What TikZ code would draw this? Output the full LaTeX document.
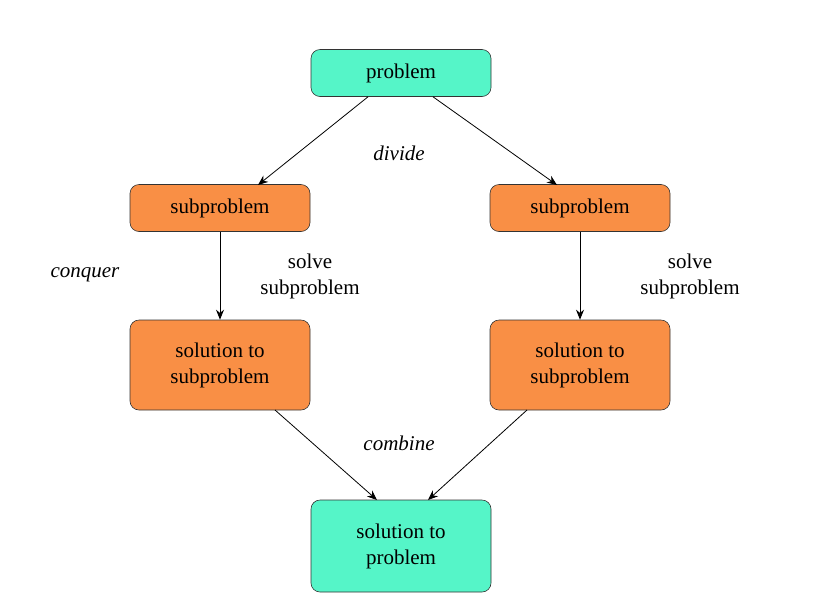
\documentclass[tikz,border=0pt]{standalone}
\usepackage{fontspec}
\setmainfont{Liberation Serif}
\usetikzlibrary{arrows.meta}
\definecolor{cy}{HTML}{55F5C8}
\definecolor{og}{HTML}{F98F45}
\begin{document}
\begin{tikzpicture}[x=1pt,y=-1pt,
 box/.style={draw=black!80,rounded corners=9pt,line width=0.6pt,minimum width=180pt,align=center,font=\fontsize{21}{26}\selectfont},
 lab/.style={font=\fontsize{21}{26}\selectfont,align=center},
 arr/.style={-{Stealth[length=10pt,width=8pt]},line width=0.8pt}]
\useasboundingbox (0,0) rectangle (824,606);
\node[box,fill=cy,minimum height=47pt] (p) at (401,73) {problem};
\node[box,fill=og,minimum height=47pt] (s1) at (220,208) {subproblem};
\node[box,fill=og,minimum height=47pt] (s2) at (580,208) {subproblem};
\node[box,fill=og,minimum height=90pt] (r1) at (220,365) {solution to\\subproblem};
\node[box,fill=og,minimum height=90pt] (r2) at (580,365) {solution to\\subproblem};
\node[box,fill=cy,minimum height=92pt] (f) at (401,546) {solution to\\problem};
\node[lab] (dv) at (399,153) {\itshape divide};
\node[lab] (cq) at (85,275) {\itshape conquer};
\node[lab] (cb) at (399,443) {\itshape combine};
\node[lab] (l1) at (310,276) {solve\\subproblem};
\node[lab] (l2) at (690,276) {solve\\subproblem};
\draw[arr] (p.south -| 368,0) -- (258,185);
\draw[arr] (p.south -| 433,0) -- (557,185);
\draw[arr] (s1) -- (r1);
\draw[arr] (s2) -- (r2);
\draw[arr] (275,410) -- (377,500);
\draw[arr] (527,410) -- (428,500);
\end{tikzpicture}
\end{document}
